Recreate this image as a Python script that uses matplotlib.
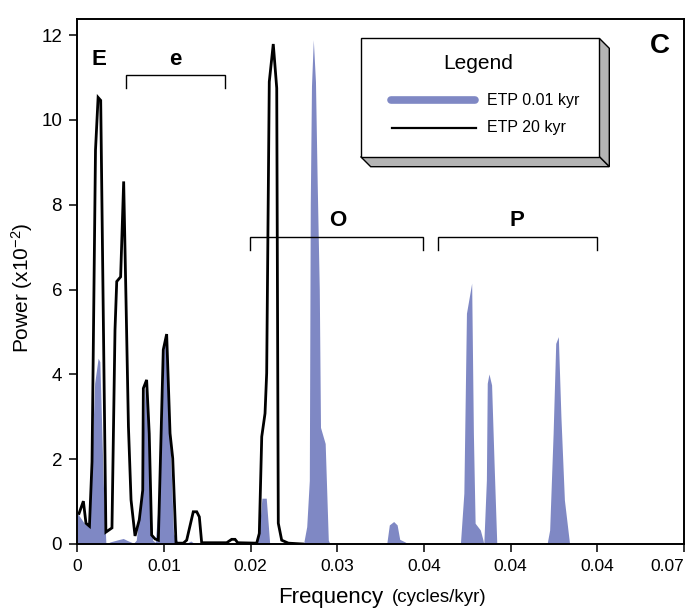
import matplotlib
matplotlib.use("Agg")
import matplotlib.pyplot as plt
from matplotlib.patches import Polygon, Rectangle
from matplotlib.lines import Line2D

plt.rcParams['font.family'] = ['Liberation Sans', 'DejaVu Sans']
plt.rcParams['mathtext.default'] = 'regular'

# ---- data ----
etp001_freq = [0.0000, 0.0008, 0.0014, 0.0020, 0.0024, 0.0026, 0.0030, 0.0033, 0.0038, 0.0047,
               0.0053, 0.0058, 0.0065, 0.0068, 0.0074, 0.0078, 0.0080, 0.0084, 0.0087, 0.0090,
               0.0095, 0.0100, 0.0103, 0.0107, 0.0111, 0.0117, 0.0127, 0.0131, 0.0136, 0.0205,
               0.0210, 0.0213, 0.0218, 0.0222, 0.0261, 0.02647, 0.02677, 0.02688, 0.02702, 0.02723,
               0.02748, 0.02768, 0.02792, 0.02806, 0.02860, 0.02896, 0.02916, 0.0357, 0.0360, 0.0365,
               0.0369, 0.0372, 0.0378, 0.0382, 0.0442, 0.0446, 0.0449, 0.0455, 0.0457, 0.0459,
               0.0465, 0.0468, 0.0469, 0.0472, 0.0473, 0.0475, 0.0478, 0.0481, 0.0484, 0.0542,
               0.0545, 0.0549, 0.0552, 0.0555, 0.0558, 0.0562, 0.0568, 0.0628, 0.0634, 0.0640,
               0.0700]
etp001_power = [0.73, 0.49, 0.41, 3.79, 4.38, 4.30, 1.43, 0.00, 0.05, 0.10,
                0.13, 0.08, 0.02, 0.09, 1.20, 3.63, 3.85, 1.04, 0.09, 0.04,
                1.35, 4.58, 4.89, 2.45, 0.25, 0.00, 0.03, 0.07, 0.00, 0.00,
                0.33, 1.08, 1.08, 0.00, 0.00, 0.41, 1.50, 8.00, 10.80, 11.89,
                10.90, 8.50, 6.00, 2.75, 2.37, 0.09, 0.00, 0.00, 0.45, 0.53,
                0.45, 0.11, 0.05, 0.00, 0.00, 1.20, 5.44, 6.15, 2.61, 0.49,
                0.33, 0.10, 0.00, 1.51, 3.79, 4.01, 3.75, 1.82, 0.00, 0.00,
                0.33, 2.61, 4.73, 4.89, 3.00, 1.04, 0.00, 0.00, 0.03, 0.00,
                0.00]

etp20_freq = [0.0002, 0.0007, 0.0010, 0.0014, 0.0017, 0.0021, 0.0024, 0.0027, 0.0033, 0.0040,
              0.00435, 0.00455, 0.0050, 0.00535, 0.00562, 0.0059, 0.0062, 0.00666, 0.00715, 0.00755,
              0.00762, 0.0080, 0.0083, 0.00858, 0.00897, 0.00935, 0.00992, 0.01031, 0.0107, 0.01101,
              0.01139, 0.01223, 0.01262, 0.01338, 0.01378, 0.01408, 0.01435, 0.01724, 0.01781, 0.0182,
              0.01851, 0.0207, 0.0210, 0.02128, 0.02166, 0.02185, 0.02215, 0.02261, 0.02301, 0.02319,
              0.02358, 0.02435, 0.0260]
etp20_power = [0.72, 1.01, 0.49, 0.42, 1.94, 9.29, 10.53, 10.46, 0.28, 0.38,
               5.05, 6.19, 6.30, 8.55, 5.75, 2.77, 1.04, 0.19, 0.57, 1.27,
               3.67, 3.87, 2.60, 0.21, 0.12, 0.09, 4.58, 4.95, 2.61, 2.02,
               0.02, 0.02, 0.09, 0.76, 0.76, 0.64, 0.03, 0.03, 0.11, 0.11,
               0.03, 0.02, 0.25, 2.53, 3.08, 4.03, 10.90, 11.79, 10.75, 0.49,
               0.09, 0.02, 0.00]

xtick_values = [0.0, 0.01, 0.02, 0.03, 0.04, 0.05, 0.06, 0.07]
xtick_labels = ['0', '0.01', '0.02', '0.03', '0.04', '0.04', '0.04', '0.07']
ytick_values = [0, 2, 4, 6, 8, 10, 12]
series_labels = ['ETP 0.01 kyr', 'ETP 20 kyr']

BLUE = '#7f88c4'
W, H = 685, 610

def fx(px):
    return px / W

def fy(py):
    return 1 - py / H

fig = plt.figure(figsize=(6.85, 6.10), dpi=100)
ax = fig.add_axes([fx(77.3), fy(544), (684 - 77.3) / W, (544 - 19) / H])

ax.fill_between(etp001_freq, etp001_power, 0, color=BLUE, lw=0, zorder=2)
ax.plot(etp20_freq, etp20_power, color='black', lw=2.0, zorder=3, solid_joinstyle='miter')

ax.set_xlim(0, 0.07)
ax.set_ylim(0, 12.38)
ax.set_xticks(xtick_values)
ax.set_xticklabels(xtick_labels)
ax.set_yticks(ytick_values)
ax.tick_params(axis='both', direction='out', length=6, width=1.1, pad=5)
ax.tick_params(axis='x', labelsize=12.5)
ax.tick_params(axis='y', labelsize=13.5)
ax.get_xticklabels()[-1].set_ha('right')
for sp in ax.spines.values():
    sp.set_linewidth(1.4)

# axis labels
fig.text(fx(383.5), fy(597), 'Frequency', fontsize=16, ha='right', va='center')
fig.text(fx(391.5), fy(597), '(cycles/kyr)', fontsize=13.5, ha='left', va='center')
fig.text(fx(22), fy(288), 'Power (x10$^{-2}$)', fontsize=15, rotation=90, ha='center', va='center')

# bracket annotations (data coords)
def bracket(x0, x1, ytop, ybot):
    ax.plot([x0, x0, x1, x1], [ybot, ytop, ytop, ybot], color='black', lw=1.0, zorder=4,
            solid_joinstyle='miter')

bracket(0.00558, 0.01708, 11.05, 10.75)
bracket(0.01993, 0.03992, 7.23, 6.93)
bracket(0.04158, 0.05993, 7.23, 6.93)
ax.text(0.00245, 11.42, 'E', fontsize=16, fontweight='bold', ha='center', va='center')
ax.text(0.01127, 11.42, 'e', fontsize=16, fontweight='bold', ha='center', va='center')
ax.text(0.0301, 7.62, 'O', fontsize=16, fontweight='bold', ha='center', va='center')
ax.text(0.0507, 7.62, 'P', fontsize=16, fontweight='bold', ha='center', va='center')
fig.text(fx(660), fy(46), 'C', fontsize=20, fontweight='bold', ha='center', va='center')

# 3D legend box
x0, x1, yt, yb = 360.7, 599.3, 38.3, 156.7
d = 10
shadow_col = '#b4b4b4'
right_face = Polygon([(fx(x1), fy(yt)), (fx(x1 + d), fy(yt + d)), (fx(x1 + d), fy(yb + d)),
                      (fx(x1), fy(yb))], closed=True, transform=fig.transFigure,
                     facecolor=shadow_col, edgecolor='black', lw=1.0, zorder=10)
bottom_face = Polygon([(fx(x0), fy(yb)), (fx(x1), fy(yb)), (fx(x1 + d), fy(yb + d)),
                       (fx(x0 + d), fy(yb + d))], closed=True, transform=fig.transFigure,
                      facecolor=shadow_col, edgecolor='black', lw=1.0, zorder=10)
front = Rectangle((fx(x0), fy(yb)), fx(x1) - fx(x0), fy(yt) - fy(yb), transform=fig.transFigure,
                  facecolor='white', edgecolor='black', lw=1.0, zorder=11)
for p in (right_face, bottom_face, front):
    fig.add_artist(p)

fig.text(fx(478.3), fy(63.5), 'Legend', fontsize=15, ha='center', va='center', zorder=12)
fig.add_artist(Line2D([fx(391), fx(475)], [fy(100), fy(100)], transform=fig.transFigure,
                      color=BLUE, lw=5.5, solid_capstyle='round', zorder=12))
fig.add_artist(Line2D([fx(391.7), fx(476)], [fy(127.7), fy(127.7)], transform=fig.transFigure,
                      color='black', lw=1.6, zorder=12))
fig.text(fx(486.7), fy(100), series_labels[0], fontsize=11.5, ha='left', va='center', zorder=12)
fig.text(fx(486.7), fy(127.7), series_labels[1], fontsize=11.5, ha='left', va='center', zorder=12)

fig.savefig('out.png', dpi=100)
